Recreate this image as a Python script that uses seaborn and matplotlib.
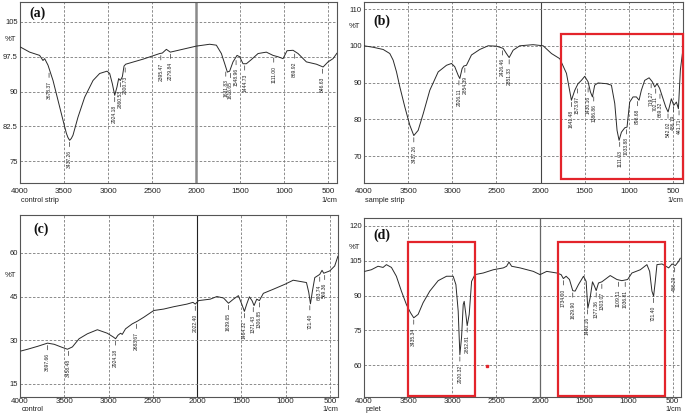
import numpy as np
import pandas as pd
import seaborn as sns
import matplotlib.pyplot as plt
from matplotlib.patches import Rectangle

# ---- spectra: (wavenumber 1/cm, %T) ----
a_points = [(3996, 99.6), (3890, 98.5), (3777, 97.8), (3739, 96.7), (3720, 97.1), (3682, 95.7),
            (3625, 92.4), (3568, 88.1), (3511, 83.8), (3473, 81.0), (3455, 80.1), (3436, 79.5),
            (3417, 79.9), (3398, 80.6), (3341, 84.5), (3265, 88.8), (3170, 92.4), (3095, 93.9),
            (3011, 94.4), (2981, 93.9), (2951, 91.7), (2924, 89.2), (2898, 91.0), (2879, 92.8),
            (2860, 92.4), (2837, 93.2), (2818, 95.5), (2799, 95.9), (2600, 97.0), (2413, 98.2),
            (2383, 98.3), (2337, 99.1), (2292, 98.5), (1996, 99.8), (1845, 100.2), (1769, 100.0),
            (1712, 98.2), (1674, 96.0), (1644, 94.2), (1618, 94.4), (1580, 96.4), (1534, 97.8),
            (1504, 97.5), (1466, 96.0), (1428, 96.0), (1371, 96.9), (1295, 98.2), (1201, 98.5),
            (1125, 97.8), (1068, 97.5), (1011, 97.1), (966, 98.8), (898, 98.9), (841, 98.2),
            (746, 96.4), (632, 95.9), (556, 95.3), (500, 96.4), (443, 97.1), (398, 98.3)]

b_points = [(4000, 100.0), (3896, 99.6), (3783, 99.0), (3708, 97.9), (3670, 96.1), (3632, 92.9),
            (3594, 88.8), (3538, 83.4), (3481, 78.4), (3436, 75.6), (3387, 77.0), (3330, 81.5),
            (3255, 87.9), (3160, 92.9), (3066, 94.7), (3009, 95.2), (2972, 94.3), (2934, 92.0),
            (2915, 91.1), (2889, 93.8), (2870, 94.5), (2840, 94.7), (2783, 97.5), (2689, 99.0),
            (2594, 100.0), (2500, 99.9), (2424, 99.3), (2387, 97.9), (2356, 96.8), (2311, 98.8),
            (2236, 100.0), (2085, 100.3), (1971, 100.0), (1877, 97.9), (1783, 96.5), (1707, 92.5),
            (1651, 85.2), (1613, 87.9), (1576, 89.7), (1538, 90.6), (1500, 91.7), (1462, 90.2),
            (1436, 87.5), (1413, 86.1), (1387, 89.3), (1349, 89.9), (1254, 89.7), (1198, 89.3),
            (1160, 84.3), (1134, 77.0), (1111, 74.3), (1085, 76.5), (1047, 77.7), (1021, 77.9),
            (991, 84.7), (953, 86.1), (915, 86.1), (885, 85.2), (859, 87.9), (821, 90.6),
            (771, 91.3), (734, 90.2), (707, 88.8), (681, 89.7), (651, 88.4), (620, 86.1),
            (583, 83.4), (556, 82.0), (519, 85.6), (492, 83.8), (462, 84.7), (439, 82.9),
            (417, 93.4), (394, 97.9)]

c_points = [(3989, 26.3), (3914, 26.9), (3801, 27.9), (3689, 29.0), (3614, 28.6), (3520, 27.5),
            (3464, 26.9), (3408, 27.7), (3333, 30.5), (3239, 32.2), (3126, 33.6), (3014, 32.4),
            (2946, 31.1), (2920, 30.5), (2894, 31.7), (2864, 32.4), (2845, 32.0), (2808, 33.9),
            (2733, 35.6), (2676, 36.5), (2601, 37.9), (2489, 40.2), (2376, 40.7), (2264, 41.5),
            (2114, 42.4), (2046, 43.0), (2020, 42.4), (1983, 43.6), (1851, 44.1), (1776, 45.0),
            (1701, 44.5), (1645, 42.7), (1589, 44.1), (1533, 45.3), (1495, 42.4), (1465, 39.9),
            (1439, 42.4), (1409, 44.9), (1379, 43.6), (1356, 41.9), (1326, 44.1), (1296, 43.6),
            (1251, 46.1), (1139, 47.5), (1008, 49.2), (914, 50.6), (820, 50.1), (764, 49.8),
            (738, 46.4), (719, 42.5), (696, 47.0), (670, 51.5), (614, 52.6), (588, 54.0),
            (569, 53.0), (501, 53.8), (445, 55.5), (408, 58.9)]

d_points = [(3992, 100.4), (3917, 101.1), (3841, 102.6), (3784, 102.1), (3746, 103.3), (3689, 102.1),
            (3633, 98.3), (3576, 91.9), (3519, 86.1), (3473, 82.6), (3436, 80.4), (3386, 81.9),
            (3330, 86.9), (3254, 91.9), (3159, 96.4), (3064, 98.3), (2989, 98.3), (2958, 94.7),
            (2932, 83.3), (2913, 64.5), (2894, 71.9), (2875, 86.1), (2864, 87.5), (2845, 81.9),
            (2830, 77.0), (2807, 81.9), (2780, 96.1), (2742, 99.0), (2648, 99.7), (2534, 101.1),
            (2420, 101.9), (2383, 102.6), (2356, 104.4), (2326, 102.6), (2231, 101.9), (2080, 100.4),
            (2004, 99.0), (1928, 100.4), (1814, 99.7), (1765, 99.0), (1739, 97.3), (1708, 98.3),
            (1670, 96.9), (1633, 92.1), (1606, 91.9), (1568, 94.7), (1511, 98.3), (1481, 96.1),
            (1462, 84.5), (1436, 89.0), (1409, 95.9), (1386, 94.0), (1367, 92.1), (1341, 95.4),
            (1303, 95.9), (1208, 98.6), (1132, 96.9), (1076, 96.4), (1011, 96.9), (962, 99.7),
            (867, 101.1), (792, 103.3), (761, 100.4), (735, 91.9), (716, 89.7), (697, 96.1),
            (678, 103.3), (621, 103.6), (545, 101.9), (507, 103.6), (470, 102.9), (432, 104.7),
            (413, 106.1)]

# ---- peak labels and where they sit on the wavenumber axis ----
a_labels = ["3678.37", "3437.26", "2924.18", "2860.53", "2800.73", "2395.47", "2279.84",
            "1631.83", "1616.65", "1548.96", "1444.73", "1111.00", "869.92", "546.63"]
a_label_x = [3670, 3437, 2924, 2860, 2805, 2400, 2290, 1662, 1610, 1545, 1447, 1117, 879, 564]

b_labels = ["3437.26", "2926.11", "2854.39", "2426.46", "2351.33", "1641.48", "1573.97",
            "1430.16", "1386.86", "1111.03", "1033.88", "898.68", "719.27", "702.11",
            "669.32", "542.02", "486.19", "441.71"]
b_label_x = [3436, 2925, 2858, 2432, 2356, 1651, 1583, 1462, 1398, 1104, 1028, 903, 748, 696,
             648, 557, 493, 432]

c_labels = ["3697.66", "3458.48", "2924.18", "2683.67", "2022.40", "1639.65", "1464.32",
            "1371.43", "1306.85", "721.40", "603.74", "569.36"]
c_label_x = [3689, 3452, 2920, 2684, 2020, 1645, 1465, 1365, 1296, 726, 614, 558]

d_labels = ["3435.34", "2920.32", "2852.81", "1734.00", "1629.90", "1460.16", "1377.36",
            "1303.07", "1109.11", "1036.81", "721.40", "486.29"]
d_label_x = [3436, 2913, 2830, 1739, 1633, 1465, 1367, 1303, 1114, 1038, 716, 477]

x_ticks = [4000, 3500, 3000, 2500, 2000, 1500, 1000, 500]

sns.set_style("white")
plt.rcParams['font.family'] = ['Liberation Sans', 'DejaVu Sans']

fig = plt.figure(figsize=(6.85, 4.19), dpi=100)


def spectrum(rect, points, labels, label_x, xlim, ylim, yticks, yticklabels,
             letter, letter_pos, sample, pct_y, mid_style, bottom_pad, name_off):
    ax = fig.add_axes(rect)
    df = pd.DataFrame(points, columns=["wn", "T"])
    sns.lineplot(data=df, x="wn", y="T", ax=ax, sort=False, estimator=None,
                 color="#2a2a2a", lw=0.7, zorder=3)
    ax.set_xlim(*xlim)
    ax.set_ylim(*ylim)
    ax.set_xlabel("")
    ax.set_ylabel("")
    ax.set_xticks(x_ticks)
    ax.set_xticklabels([str(v) for v in x_ticks])
    ax.set_yticks(yticks)
    ax.set_yticklabels(yticklabels)
    ax.tick_params(axis='both', length=2, width=0.6, color="#555",
                   labelcolor="#222", direction='in')
    ax.tick_params(axis='x', pad=bottom_pad, labelsize=5.8)
    ax.tick_params(axis='y', pad=1.5, labelsize=5.5)

    for v in x_ticks[1:]:
        if v == 2000:
            ax.axvline(v, color=mid_style[0], lw=mid_style[1], zorder=1)
        else:
            ax.axvline(v, color="#7a7a7a", lw=0.6, ls=(0, (3, 2)), zorder=1)
    for v in yticks:
        ax.axhline(v, color="#7a7a7a", lw=0.6, ls=(0, (3, 2)), zorder=1)

    for s in ax.spines.values():
        s.set_color("#555")
        s.set_linewidth(0.8)

    # peak markers
    wn = df["wn"].to_numpy()[::-1]
    tt = df["T"].to_numpy()[::-1]
    for lab, x in zip(labels, label_x):
        yc = np.interp(np.linspace(x - 10, x + 10, 9), wn, tt).min()
        ax.annotate(lab, xy=(x, yc), xytext=(0, -7), textcoords='offset points',
                    rotation=90, ha='center', va='top', fontsize=3.6, color="#222",
                    arrowprops=dict(arrowstyle='-', lw=0.5, color="#333",
                                    shrinkA=0, shrinkB=1.5), zorder=4)

    ax.text(letter_pos[0], letter_pos[1], letter, transform=ax.transAxes,
            fontsize=10, fontweight='bold', family=['Liberation Serif', 'DejaVu Serif'],
            ha='center', va='center', color="#111")
    ax.annotate("%T", xy=(0, pct_y), xycoords=('axes fraction', 'data'),
                xytext=(-2.5, 0), textcoords='offset points', ha='right', va='center',
                fontsize=5.5, color="#222")
    ax.annotate(sample, xy=(0, 0), xycoords='axes fraction', xytext=(1, -name_off),
                textcoords='offset points', ha='left', va='center', fontsize=5.3,
                color="#222")
    ax.annotate("1/cm", xy=(1, 0), xycoords='axes fraction', xytext=(0, -name_off),
                textcoords='offset points', ha='right', va='center', fontsize=5.3,
                color="#222")
    return ax


ax_a = spectrum([0.0292, 0.5632, 0.4628, 0.4320], a_points, a_labels, a_label_x,
                (4000, 398), (70.3, 109.3), [75, 82.5, 90, 97.5, 105],
                ["75", "82.5", "90", "97.5", "105"], "(a)", (0.054, 0.94),
                "control strip", 101.2, ("#8a8a8a", 1.8), 3.5, 12.5)

ax_b = spectrum([0.5314, 0.5632, 0.4657, 0.4320], b_points, b_labels, b_label_x,
                (4000, 387), (62.7, 111.9), [70, 80, 90, 100, 110],
                ["70", "80", "90", "100", "110"], "(b)", (0.056, 0.895),
                "sample strip", 105.2, ("#444444", 0.8), 3.5, 12.5)

ax_c = spectrum([0.0292, 0.0525, 0.4642, 0.4344], c_points, c_labels, c_label_x,
                (4000, 408), (10.5, 73.0), [15, 30, 45, 60],
                ["15", "30", "45", "60"], "(c)", (0.066, 0.924),
                "control", 52.1, ("#222222", 0.8), 0.6, 9.2)

ax_d = spectrum([0.5314, 0.0525, 0.4628, 0.4273], d_points, d_labels, d_label_x,
                (4000, 405), (46.3, 123.4), [60, 75, 90, 105, 120],
                ["60", "75", "90", "105", "120"], "(d)", (0.057, 0.906),
                "pelet", 110.7, ("#666666", 0.9), 0.6, 9.2)

# red highlight boxes
red = "#e3242b"
ax_b.add_patch(Rectangle((1770, 63.7), 387 - 1770, 103.2 - 63.7, fill=False,
                         ec=red, lw=1.6, clip_on=False, zorder=5))
ax_d.add_patch(Rectangle((3500, 46.9), 2740 - 3500, 113.1 - 46.9, fill=False,
                         ec=red, lw=1.6, clip_on=False, zorder=5))
ax_d.add_patch(Rectangle((1800, 46.9), 590 - 1800, 113.1 - 46.9, fill=False,
                         ec=red, lw=1.6, clip_on=False, zorder=5))
ax_d.plot([2600], [59.6], marker='s', ms=1.5, color=red, zorder=5)

fig.savefig("out.png", dpi=100)
